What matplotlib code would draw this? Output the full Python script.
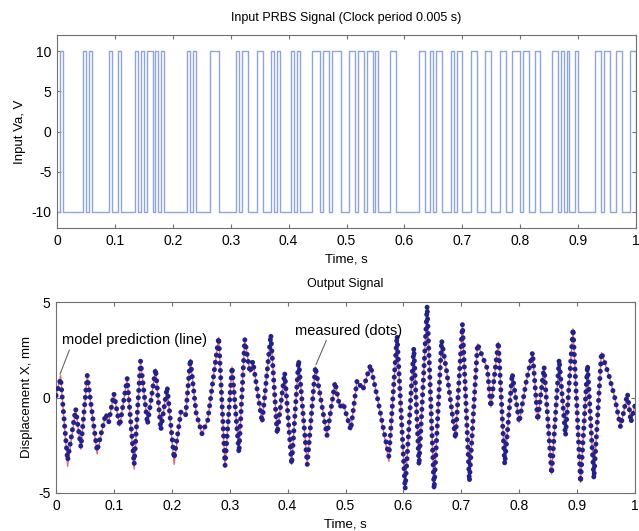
import numpy as np
import matplotlib
matplotlib.use('Agg')
import matplotlib.pyplot as plt

plt.rcParams['font.family'] = ['Liberation Sans', 'DejaVu Sans']
plt.rcParams['font.size'] = 9.5
plt.rcParams['axes.unicode_minus'] = False

# PRBS input: instants (s) where the signal goes up to +10 and back down to -10
rise_t = [0.005, 0.045, 0.055, 0.090, 0.105, 0.135, 0.145, 0.155, 0.170, 0.180,
          0.225, 0.235, 0.265, 0.310, 0.320, 0.345, 0.370, 0.380, 0.405, 0.415,
          0.440, 0.460, 0.475, 0.505, 0.520, 0.535, 0.550, 0.575, 0.625, 0.645,
          0.655, 0.680, 0.690, 0.715, 0.740, 0.765, 0.785, 0.805, 0.825, 0.855,
          0.870, 0.880, 0.895, 0.930, 0.945, 0.965, 0.990]
fall_t = [0.010, 0.050, 0.060, 0.095, 0.110, 0.140, 0.150, 0.165, 0.175, 0.185,
          0.230, 0.240, 0.280, 0.315, 0.330, 0.355, 0.375, 0.385, 0.410, 0.420,
          0.455, 0.470, 0.490, 0.515, 0.530, 0.545, 0.555, 0.585, 0.635, 0.650,
          0.665, 0.685, 0.700, 0.725, 0.750, 0.775, 0.800, 0.815, 0.835, 0.865,
          0.875, 0.885, 0.900, 0.940, 0.955, 0.975, 1.000]
low_level, high_level = -10, 10

# Output signal, read at turning points
out_t = [0.000, 0.008, 0.020, 0.034, 0.043, 0.054, 0.071, 0.086, 0.091, 0.100,
         0.110, 0.123, 0.135, 0.146, 0.158, 0.172, 0.181, 0.192, 0.204, 0.216,
         0.224, 0.232, 0.242, 0.252, 0.262, 0.281, 0.292, 0.304, 0.316, 0.326,
         0.335, 0.340, 0.356, 0.371, 0.382, 0.395, 0.407, 0.419, 0.434, 0.448,
         0.468, 0.482, 0.490, 0.496, 0.509, 0.520, 0.530, 0.543, 0.555, 0.575,
         0.589, 0.603, 0.618, 0.627, 0.641, 0.653, 0.666, 0.675, 0.690, 0.702,
         0.714, 0.728, 0.745, 0.751, 0.764, 0.775, 0.788, 0.800, 0.812, 0.823,
         0.832, 0.843, 0.856, 0.869, 0.880, 0.893, 0.906, 0.918, 0.929, 0.942,
         0.955, 0.965, 0.975, 0.987, 0.993, 1.000]
measured = [0.1, 1.0, -3.3, -0.6, -2.6, 1.15, -2.8, -0.85, -1.3, 0.2,
            -1.5, 1.0, -3.5, 1.9, -1.4, 1.5, -1.7, 0.55, -3.2, -0.7,
            -0.9, 2.0, -0.8, -1.9, -1.2, 3.15, -3.55, 1.6, -2.9, 3.05,
            1.3, 1.9, -1.3, 3.3, -1.9, 1.3, -3.5, 1.95, -3.5, 1.6,
            -2.0, 0.8, -0.5, -0.3, -1.7, 0.9, 0.4, 1.7, 0.0, -3.1,
            3.25, -4.8, 2.6, -3.55, 4.8, -4.8, 3.0, 1.3, -2.15, 3.85,
            -4.4, 2.8, 1.5, -0.5, 2.9, -3.5, 1.25, -1.3, 0.8, 2.35,
            -1.2, 1.6, -4.0, 2.0, -2.0, 3.6, -4.45, 1.7, -4.25, 2.35,
            1.15, 0.0, -1.55, 0.2, -1.3, -0.4]
model = [0.1, 1.15, -3.6, -0.6, -2.7, 1.15, -2.95, -0.85, -1.3, 0.2,
         -1.5, 1.0, -3.75, 1.9, -1.4, 1.5, -1.7, 0.55, -3.5, -0.7,
         -0.9, 2.0, -0.8, -1.9, -1.2, 3.15, -3.65, 1.6, -2.9, 3.1,
         1.3, 1.9, -1.3, 3.3, -1.9, 1.3, -3.5, 1.95, -3.5, 1.6,
         -2.0, 0.8, -0.5, -0.3, -1.7, 0.9, 0.4, 1.7, 0.0, -3.35,
         3.25, -4.8, 2.6, -3.55, 4.8, -4.8, 3.0, 1.3, -2.15, 3.85,
         -4.4, 2.8, 1.5, -0.5, 2.9, -3.5, 1.25, -1.3, 0.8, 2.35,
         -1.2, 1.6, -4.0, 2.0, -2.0, 3.6, -4.45, 1.7, -4.25, 2.35,
         1.15, 0.0, -1.55, 0.2, -1.3, -0.4]

# step trace from the switching instants
edges = sorted([(t, high_level) for t in rise_t] + [(t, low_level) for t in fall_t])
prbs_x, prbs_y = [0.0], [low_level]
for t, lev in edges:
    prbs_x += [t, t]
    prbs_y += [prbs_y[-1], lev]

frame_col = '#707070'
xticks = np.arange(0, 1.01, 0.1)
xticklabels = ['0', '0.1', '0.2', '0.3', '0.4', '0.5', '0.6', '0.7', '0.8', '0.9', '1']

fig = plt.figure(figsize=(6.39, 5.31), dpi=100)
ax1 = fig.add_axes([57/639, 1 - 228/531, (636 - 57)/639, (228 - 35)/531])
ax2 = fig.add_axes([56/639, 1 - 493/531, (635 - 56)/639, (493 - 302)/531])

ax1.plot(prbs_x, prbs_y, color='#8ea4dc', lw=1.0)
ax1.set_xlim(0, 1)
ax1.set_ylim(-12, 12)
ax1.set_yticks([-10, -5, 0, 5, 10])
ax1.set_title('Input PRBS Signal (Clock period 0.005 s)', fontsize=9, pad=10)
ax1.set_xlabel('Time, s', labelpad=4)
ax1.set_ylabel('Input Va, V', labelpad=4)

ax2.plot(out_t, model, color='#e46a74', lw=1.0, zorder=2)
ax2.plot(out_t, measured, color='#22228a', lw=3.6,
         linestyle=(0, (0.01, 1.45)), dash_capstyle='round', zorder=3)
ax2.set_xlim(0, 1)
ax2.set_ylim(-5, 5)
ax2.set_yticks([-5, 0, 5])
ax2.set_title('Output Signal', fontsize=9, pad=11)
ax2.set_xlabel('Time, s', labelpad=4)
ax2.set_ylabel('Displacement X, mm', labelpad=4)

ax2.annotate('model prediction (line)', xy=(0.006, 1.15), xytext=(0.01, 3.0),
             ha='left', va='center', fontsize=10.5,
             arrowprops=dict(arrowstyle='-', color='#666666', lw=0.8,
                             relpos=(0.06, 0.0), shrinkA=0, shrinkB=1))
ax2.annotate('measured (dots)', xy=(0.448, 1.65), xytext=(0.506, 3.5),
             ha='center', va='center', fontsize=10.5,
             arrowprops=dict(arrowstyle='-', color='#666666', lw=0.8,
                             relpos=(0.3, 0.0), shrinkA=0, shrinkB=1))

for ax in (ax1, ax2):
    ax.set_xticks(xticks)
    ax.set_xticklabels(xticklabels)
    ax.tick_params(direction='in', top=True, right=True, length=3,
                   color=frame_col, labelsize=10, pad=4)
    for sp in ax.spines.values():
        sp.set_color(frame_col)
        sp.set_linewidth(0.8)

fig.savefig('out.png', dpi=100)
